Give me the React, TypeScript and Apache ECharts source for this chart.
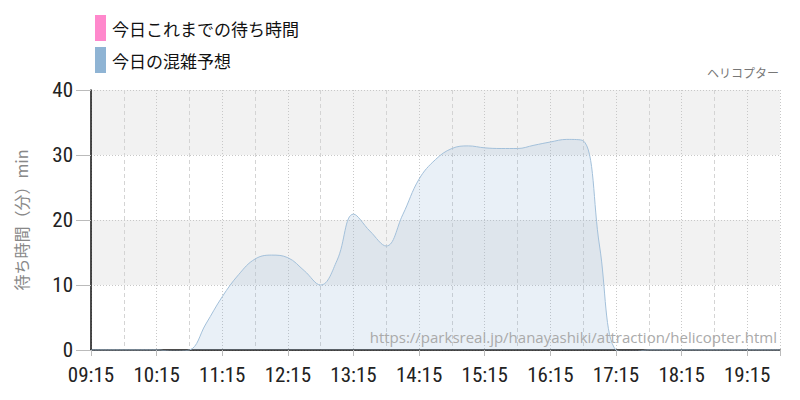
import React, { useEffect, useRef } from "react";
import * as echarts from "echarts";

// 15-minute steps from 09:15
const times: string[] = [
  "09:15","09:30","09:45","10:00","10:15","10:30","10:45","11:00","11:15","11:30",
  "11:45","12:00","12:15","12:30","12:45","13:00","13:15","13:30","13:45","14:00",
  "14:15","14:30","14:45","15:00","15:15","15:30","15:45","16:00","16:15","16:30",
  "16:45","17:00","17:15","17:30","17:45","18:00","18:15","18:30","18:45","19:00",
  "19:15","19:30","19:45",
];
const forecast: number[] = [
  0, 0, 0, 0, 0, -0.2, 0, 4, 8.2, 11.6,
  14, 14.6, 14.2, 12.2, 10, 13.8, 20.9, 18.3, 16, 20.8,
  26.3, 29.3, 31, 31.4, 31.1, 31, 31, 31.5, 32, 32.4,
  32.2, 16, 0, -0.3, 0, 0, 0, 0, 0, 0,
  0, 0, 0,
];
const todayActual: number[] = [];
const xTickLabels: string[] = ["09:15","10:15","11:15","12:15","13:15","14:15","15:15","16:15","17:15","18:15","19:15"];
const yTicks: number[] = [0, 10, 20, 30, 40];
const legendNames: string[] = ["今日これまでの待ち時間", "今日の混雑予想"];

const toMin = (t: string) => {
  const [h, m] = t.split(":").map(Number);
  return h * 60 + m - (9 * 60 + 15);
};
const fromMin = (v: number) => {
  const total = v + 9 * 60 + 15;
  const h = Math.floor(total / 60);
  const m = total % 60;
  return `${String(h).padStart(2, "0")}:${String(m).padStart(2, "0")}`;
};

const NUM_FONT = "'Roboto Condensed','Liberation Sans Narrow','DejaVu Sans Condensed',Roboto,sans-serif";
const JP_FONT = "'Noto Sans CJK JP','Noto Sans',sans-serif";

export default function App() {
  const ref = useRef<HTMLDivElement>(null);
  useEffect(() => {
    if (!ref.current) return;
    const chart = echarts.init(ref.current, null, { renderer: "svg" });
    chart.setOption({
      animation: false,
      backgroundColor: "#ffffff",
      legend: {
        left: 90,
        top: 10,
        orient: "vertical",
        itemWidth: 11,
        itemHeight: 26,
        itemGap: 6,
        icon: "rect",
        textStyle: { fontSize: 17, color: "#111", fontFamily: JP_FONT, padding: [0, 0, 0, 1] },
        data: legendNames,
      },
      grid: { left: 91, right: 20, top: 90, bottom: 50 },
      xAxis: {
        type: "value",
        min: 0,
        max: 630,
        interval: 60,
        axisLine: { show: true, onZero: false, lineStyle: { color: "#111", width: 1.5 } },
        axisTick: { show: true, length: 6, lineStyle: { color: "#bbb" } },
        axisLabel: {
          fontSize: 21,
          color: "#222",
          fontFamily: NUM_FONT,
          margin: 15,
          lineHeight: 20,
          formatter: (v: number) => {
            const s = fromMin(v);
            return xTickLabels.includes(s) ? s : "";
          },
        },
        splitLine: { show: true, lineStyle: { color: "#c8c8c8", type: [1, 2] } },
        minorTick: { show: false, splitNumber: 2 },
        minorSplitLine: { show: true, lineStyle: { color: "#d4d4d4", type: [4, 3] } },
      },
      yAxis: {
        type: "value",
        min: 0,
        max: 40,
        interval: 10,
        name: "待ち時間（分）min",
        nameLocation: "middle",
        nameGap: 62,
        nameRotate: 90,
        nameTextStyle: { fontSize: 16, color: "#888", fontFamily: JP_FONT },
        axisLine: { show: true, lineStyle: { color: "#111", width: 1.5 } },
        axisTick: { show: true, length: 15, lineStyle: { color: "#bbb" } },
        axisLabel: {
          fontSize: 21,
          color: "#222",
          fontFamily: NUM_FONT,
          margin: 18,
          lineHeight: 16,
          formatter: (v: number) => (yTicks.includes(v) ? String(v) : ""),
        },
        splitLine: { show: true, lineStyle: { color: "#c8c8c8", type: [1, 2] } },
        splitArea: { show: true, areaStyle: { color: ["#ffffff", "#f2f2f2"] } },
      },
      series: [
        {
          name: legendNames[0],
          type: "line",
          color: "#ff88cc",
          data: todayActual.map((v, i) => [toMin(times[i]), v]),
          showSymbol: false,
        },
        {
          name: legendNames[1],
          type: "line",
          color: "#8fb4d4",
          smooth: 0.4,
          showSymbol: false,
          lineStyle: { width: 1, color: "#a3c0da" },
          areaStyle: { color: "rgba(143,180,212,0.28)", origin: "start" },
          data: forecast.map((v, i) => [toMin(times[i]), v]),
          z: 3,
        },
      ],
      graphic: [
        {
          type: "text",
          right: 21,
          top: 66,
          style: { text: "ヘリコプター", fontSize: 12, fill: "#777", fontFamily: JP_FONT },
        },
        {
          type: "text",
          right: 23,
          top: 329,
          z: 10,
          style: {
            text: "https://parksreal.jp/hanayashiki/attraction/helicopter.html",
            fontSize: 15,
            fill: "#aaaaaa",
            fontFamily: "'Open Sans','Noto Sans',sans-serif",
          },
        },
      ],
    });
    return () => chart.dispose();
  }, []);
  return <div ref={ref} style={{ width: 800, height: 400, position: "absolute", left: 0, top: 0 }} />;
}
